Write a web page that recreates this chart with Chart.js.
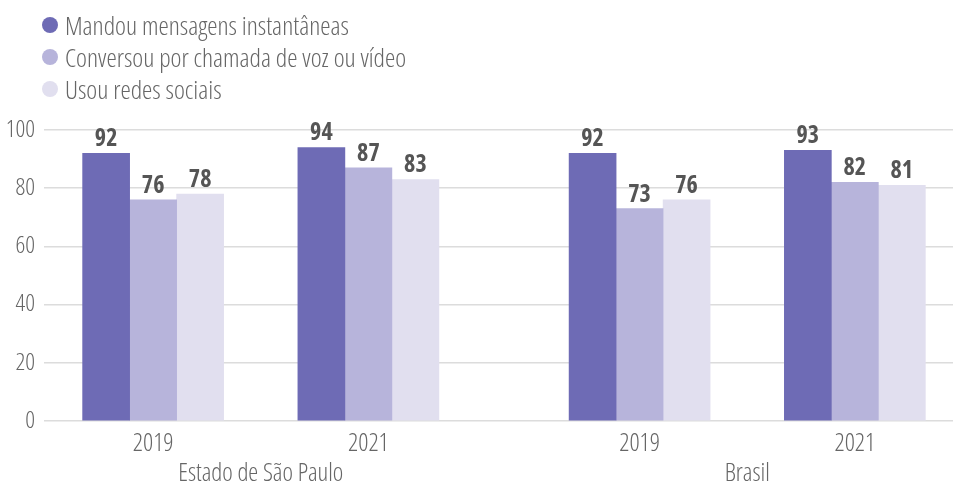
<!DOCTYPE html>
<html>
<head>
<meta charset="utf-8">
<script src="https://cdn.jsdelivr.net/npm/chart.js@4.4.1/dist/chart.umd.min.js"></script>
<style>
  html, body { margin: 0; padding: 0; background: #fff; }
  #wrap { position: relative; width: 953px; height: 485px; }
  #legend { position: absolute; left: 42px; top: 9px; font-family: 'Open Sans', sans-serif; font-stretch: condensed; font-weight: 300; font-size: 26px; color: #666; }
  #legend .item { height: 32px; display: flex; align-items: center; white-space: nowrap; }
  #legend .dot { width: 16px; height: 16px; border-radius: 50%; margin-right: 7px; flex: none; }
</style>
</head>
<body>
<div id="wrap">
  <canvas id="chart" width="953" height="485"></canvas>
  <div id="legend"></div>
</div>
<script>
// Data
const years = ["2019", "2021", "2019", "2021"];
const regions = ["Estado de São Paulo", "Brasil"];
const seriesNames = ["Mandou mensagens instantâneas", "Conversou por chamada de voz ou vídeo", "Usou redes sociais"];
const mensagens = [92, 94, 92, 93];
const chamadas = [76, 87, 73, 82];
const redes = [78, 83, 76, 81];
const yTicks = [0, 20, 40, 60, 80, 100];

const colors = ["#6e6bb5", "#b7b4db", "#e1dfef"];
const FONT = "'Open Sans', sans-serif";
// font-stretch goes in through the weight slot of the font string
const LIGHT = "300 condensed";
const BOLD = "bold condensed";

// x slots: two years per region, with a wider gap between the regions
const regionGap = 0.26;
const xPos = years.map((y, i) => i + Math.floor(i / 2) * regionGap);
const regionPos = regions.map((r, i) => (xPos[i * 2] + xPos[i * 2 + 1]) / 2);

const allSeries = [mensagens, chamadas, redes];

// legend (html)
const legendEl = document.getElementById("legend");
seriesNames.forEach((name, i) => {
  const row = document.createElement("div");
  row.className = "item";
  row.innerHTML = '<span class="dot" style="background:' + colors[i] + '"></span><span>' + name + '</span>';
  legendEl.appendChild(row);
});

// value labels above the bars + region names under the years
const extraLabels = {
  id: "extraLabels",
  afterDatasetsDraw(chart) {
    const c = chart.ctx;
    c.save();
    c.font = BOLD + " 24px " + FONT;
    c.fillStyle = "#555";
    c.textAlign = "center";
    c.textBaseline = "alphabetic";
    chart.data.datasets.forEach((ds, di) => {
      chart.getDatasetMeta(di).data.forEach((bar, i) => {
        c.fillText(String(ds.data[i].y), bar.x, bar.y - 7);
      });
    });
    c.font = LIGHT + " 25px " + FONT;
    c.fillStyle = "#666";
    c.textBaseline = "middle";
    const xs = chart.scales.x;
    regions.forEach((r, i) => {
      c.fillText(r, xs.getPixelForValue(regionPos[i]), chart.chartArea.bottom + 53);
    });
    c.restore();
  }
};

const xMin = -0.507, xMax = 3.716;

new Chart(document.getElementById("chart"), {
  type: "bar",
  data: {
    datasets: allSeries.map((vals, si) => ({
      label: seriesNames[si],
      data: vals.map((v, i) => ({ x: xPos[i], y: v })),
      backgroundColor: colors[si],
      borderWidth: 0,
      barThickness: 47
    }))
  },
  plugins: [extraLabels],
  options: {
    responsive: false,
    animation: false,
    layout: { padding: { top: 130, right: 0, left: 0, bottom: 18 } },
    plugins: {
      legend: { display: false },
      tooltip: { enabled: false }
    },
    scales: {
      x: {
        type: "linear",
        position: "bottom",
        offset: false,
        min: xMin,
        max: xMax,
        grid: { display: false, offset: false, drawTicks: false },
        border: { display: false },
        afterBuildTicks: (scale) => { scale.ticks = xPos.map(v => ({ value: v })); },
        ticks: {
          autoSkip: false,
          maxRotation: 0,
          padding: 11,
          color: "#666",
          font: { family: FONT, size: 25, weight: LIGHT, lineHeight: 0.96 },
          callback: (v, i) => years[i]
        }
      },
      y: {
        min: 0,
        max: 100,
        afterBuildTicks: (scale) => { scale.ticks = yTicks.map(v => ({ value: v })); },
        afterFit: (scale) => { scale.width = 44; },
        grid: { color: "#dcdcdc", lineWidth: 1.5, drawTicks: false },
        border: { display: false },
        ticks: {
          padding: 9,
          color: "#666",
          font: { family: FONT, size: 24, weight: LIGHT }
        }
      }
    }
  }
});
</script>
</body>
</html>
